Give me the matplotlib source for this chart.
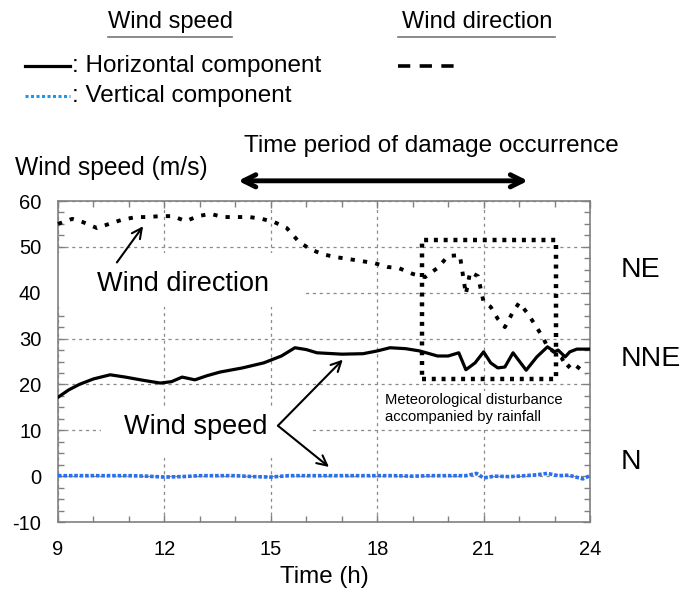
import matplotlib
matplotlib.use("Agg")
import matplotlib.pyplot as plt
from matplotlib.patches import Rectangle
from matplotlib.lines import Line2D

plt.rcParams['font.family'] = ['Liberation Sans', 'DejaVu Sans']
plt.rcParams['axes.unicode_minus'] = False

# ---- data ----
hour_h = [9.0, 9.3, 9.6, 10.0, 10.47, 10.9, 11.4, 11.88, 12.2, 12.5, 12.86, 13.2, 13.57,
          14.2, 14.8, 15.3, 15.68, 16.0, 16.3, 17.0, 17.6, 18.0, 18.36, 18.8, 19.2, 19.7,
          20.0, 20.3, 20.5, 20.76, 21.0, 21.2, 21.4, 21.6, 21.83, 22.2, 22.5, 22.8, 23.0,
          23.1, 23.3, 23.43, 23.63, 24.0]
speed_h = [17.2, 18.8, 20.0, 21.2, 22.1, 21.6, 20.9, 20.3, 20.6, 21.6, 21.0, 21.9, 22.7,
           23.6, 24.7, 26.2, 28.0, 27.6, 26.9, 26.6, 26.7, 27.3, 28.0, 27.8, 27.3, 26.2,
           26.2, 26.9, 23.2, 24.7, 27.1, 24.7, 23.6, 23.8, 26.9, 23.1, 26.0, 28.2, 27.1,
           27.5, 26.0, 27.1, 27.7, 27.7]

hour_d = [9.0, 9.4, 9.7, 10.1, 10.44, 10.8, 11.2, 11.5, 11.9, 12.24, 12.6, 12.95, 13.3,
          13.65, 14.0, 14.4, 14.75, 15.1, 15.45, 15.77, 16.1, 16.47, 16.8, 17.15, 17.55,
          17.9, 18.3, 18.6, 19.0, 19.35, 19.7, 20.0, 20.33, 20.5, 20.62, 20.84, 21.0,
          21.2, 21.4, 21.6, 21.8, 22.0, 22.25, 22.45, 22.67, 22.8, 23.0, 23.2, 23.35,
          23.5, 23.9]
dir_vals = [55.0, 56.1, 55.4, 54.1, 55.0, 55.9, 56.5, 56.5, 56.7, 56.7, 55.6, 56.7, 57.2,
            56.5, 56.5, 56.5, 56.1, 55.4, 54.1, 51.3, 49.5, 48.4, 47.8, 47.4, 46.9,
            46.5, 45.6, 45.4, 44.1, 43.4, 45.4, 48.0, 48.2, 39.7, 44.5, 43.6, 38.0,
            36.9, 34.3, 32.5, 35.4, 37.8, 35.4, 33.0, 30.3, 28.2, 27.0, 25.8, 23.6,
            24.7, 22.3]

hour_v = [9, 9.5, 10, 10.5, 11, 11.5, 12, 12.5, 13, 13.5, 14, 14.5, 15, 15.5, 16, 16.5,
          17, 17.5, 18, 18.5, 19, 19.5, 20, 20.5, 20.8, 21.0, 21.3, 21.7, 22.0, 22.5,
          22.8, 23.1, 23.4, 23.8, 24.0]
v_vals = [0.1, 0.1, 0.1, 0.1, 0.1, 0.0, -0.2, -0.1, 0.1, 0.1, 0.1, -0.1, -0.2, 0.1, 0.1,
          0.1, 0.1, 0.1, 0.1, 0.1, 0.0, 0.1, 0.1, 0.1, 0.6, -0.4, 0.0, -0.1, 0.0, 0.3,
          0.6, 0.1, 0.2, -0.6, 0.1]

x_ticks = [9, 12, 15, 18, 21, 24]
y_ticks = [-10, 0, 10, 20, 30, 40, 50, 60]
dir_labels = ["NE", "NNE", "N"]
dir_label_y = [45, 25.5, 3]

# ---- figure ----
W, H = 683, 590
fig = plt.figure(figsize=(W / 100, H / 100), dpi=100)
L, R, T, B = 58, 590, 201, 522
ax = fig.add_axes([L / W, 1 - B / H, (R - L) / W, (B - T) / H])

gray = '#808080'
ax.set_xlim(9, 24)
ax.set_ylim(-10, 60)
ax.set_xticks(x_ticks)
ax.set_yticks(y_ticks)
ax.set_xticks([h for h in range(9, 25)], minor=True)
ax.set_yticks([v / 2 for v in range(-20, 121, 5)], minor=True)
ax.tick_params(which='both', direction='in', top=True, right=True, color=gray, width=1)
ax.tick_params(which='major', length=5, labelsize=14.5)
ax.tick_params(axis='x', which='major', pad=13)
ax.tick_params(axis='y', which='major', pad=12)
ax.tick_params(which='minor', length=4)
for s in ax.spines.values():
    s.set_color(gray)
    s.set_linewidth(1.2)
ax.set_axisbelow(True)
ax.grid(True, which='major', color='#8a8a8a', linestyle=(0, (2.5, 3)), linewidth=0.9)

# white boxes behind in-plot text (hide grid)
ax.add_patch(Rectangle((9, 36.8), 7.0, 11.8, facecolor='white', edgecolor='none', zorder=1))
ax.add_patch(Rectangle((10.2, 3.9), 5.9, 11.3, facecolor='white', edgecolor='none', zorder=1))
ax.add_patch(Rectangle((18.05, 10.8), 5.7, 7.8, facecolor='white', edgecolor='none', zorder=1))

# series
ax.plot(hour_h, speed_h, color='black', linewidth=2.3, zorder=4, solid_joinstyle='round')
ax.plot(hour_d, dir_vals, color='black', linewidth=2.8, linestyle=(0, (1.1, 2.1)),
        zorder=4, clip_on=False)
ax.plot(hour_v, v_vals, color='#2a6ff0', linewidth=2.6, linestyle=(0, (1.0, 0.5)), zorder=3)

# disturbance box
ax.add_patch(Rectangle((19.26, 21.1), 23.03 - 19.26, 51.6 - 21.1, fill=False,
                       edgecolor='black', linewidth=3.2, linestyle=(0, (0.9, 1.3)), zorder=5))
ax.text(18.22, 16.6, "Meteorological disturbance", fontsize=10.6, ha='left', va='center', zorder=6)
ax.text(18.22, 12.9, "accompanied by rainfall", fontsize=10.6, ha='left', va='center', zorder=6)

# in-plot annotations
ax.text(10.1, 41.9, "Wind direction", fontsize=19.5, ha='left', va='center', zorder=6)
ax.annotate("", xy=(11.4, 54.5), xytext=(10.66, 46.6),
            arrowprops=dict(arrowstyle='->', color='black', lw=1.5,
                            mutation_scale=18, shrinkA=0, shrinkB=0), zorder=6)
ax.text(10.87, 10.8, "Wind speed", fontsize=19.5, ha='left', va='center', zorder=6)
ax.annotate("", xy=(17.03, 25.4), xytext=(15.2, 11.0),
            arrowprops=dict(arrowstyle='->', color='black', lw=1.5,
                            mutation_scale=18, shrinkA=0, shrinkB=0), zorder=6)
ax.annotate("", xy=(16.64, 2.0), xytext=(15.2, 11.0),
            arrowprops=dict(arrowstyle='->', color='black', lw=1.5,
                            mutation_scale=18, shrinkA=0, shrinkB=0), zorder=6)

# right-side direction labels
for lab, yv in zip(dir_labels, dir_label_y):
    ax.text(24.85, yv, lab, fontsize=20.5, ha='left', va='center', clip_on=False)

# axis labels
ax.set_xlabel("Time (h)", fontsize=17.4, labelpad=5)
fig.text(15 / W, 1 - 168 / H, "Wind speed (m/s)", fontsize=17.7, ha='left', va='center')

# time period arrow and text
ax.annotate("", xy=(22.25, 64.4), xytext=(14.08, 64.4), annotation_clip=False,
            arrowprops=dict(arrowstyle='<->', color='black', lw=3.5,
                            mutation_scale=22, shrinkA=0, shrinkB=0))
fig.text(431 / W, 1 - 146 / H, "Time period of damage occurrence", fontsize=17.5,
         ha='center', va='center')

# top legend
fig.text(170 / W, 1 - 22 / H, "Wind speed", fontsize=17, ha='center', va='center')
fig.add_artist(Line2D([108 / W, 232 / W], [1 - 37 / H, 1 - 37 / H], color='#777777', lw=1.2))
fig.text(477 / W, 1 - 22 / H, "Wind direction", fontsize=17, ha='center', va='center')
fig.add_artist(Line2D([398 / W, 555 / W], [1 - 37 / H, 1 - 37 / H], color='#777777', lw=1.2))

fig.add_artist(Line2D([25 / W, 70 / W], [1 - 66 / H, 1 - 66 / H], color='black', lw=2.3))
fig.text(72 / W, 1 - 66 / H, ": Horizontal component", fontsize=17.5, ha='left', va='center')
fig.add_artist(Line2D([25 / W, 70 / W], [1 - 96 / H, 1 - 96 / H], color='#1a9aef', lw=2.2,
                      linestyle=(0, (1.0, 0.8))))
fig.text(72 / W, 1 - 96 / H, ": Vertical component", fontsize=17.5, ha='left', va='center')
fig.add_artist(Line2D([398 / W, 460 / W], [1 - 66 / H, 1 - 66 / H], color='black', lw=2.6,
                      linestyle=(0, (3.4, 2.6))))

fig.savefig("out.png", dpi=100)
